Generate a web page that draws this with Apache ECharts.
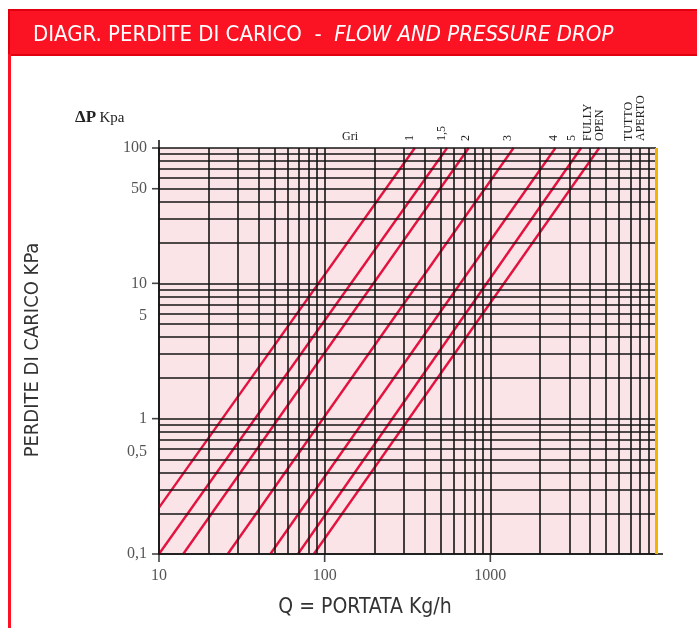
<!DOCTYPE html>
<html><head><meta charset="utf-8">
<script src="https://cdn.jsdelivr.net/npm/echarts@6/dist/echarts.min.js"></script>
<style>html,body{margin:0;padding:0;background:#fff}#c{width:697px;height:628px}</style>
</head><body><div id="c"></div>
<script>
// Curves: [Q kg/h, ΔP kPa] at both ends
const curveNames = ['1', '1,5', '2', '3', '4', '5', 'FULLY OPEN'];
const curve1 = [[10, 0.22], [350, 100]];
const curve15 = [[10, 0.1], [548, 100]];
const curve2 = [[14, 0.1], [740, 100]];
const curve3 = [[26, 0.1], [1380, 100]];
const curve4 = [[47, 0.1], [2470, 100]];
const curve5 = [[69, 0.1], [3530, 100]];
const curveFO = [[86, 0.1], [4540, 100]];
// grid line values
const xGrid = [10, 20, 30, 40, 50, 60, 70, 80, 90, 100, 200, 300, 400, 500, 600, 700, 800, 900,
  1000, 2000, 3000, 4000, 5000, 6000, 7000, 8000, 9000];
const yGrid = [0.1, 0.2, 0.3, 0.4, 0.5, 0.6, 0.7, 0.8, 0.9, 1, 2, 3, 4, 5, 6, 7, 8, 9,
  10, 20, 30, 40, 50, 60, 70, 80, 90, 100];
// tick labels
const xLabels = [10, 100, 1000];
const yLabels = [100, 50, 10, 5, 1, 0.5, 0.1];
const yTicked = [100, 50, 10, 1, 0.1];

const curves = [curve1, curve15, curve2, curve3, curve4, curve5, curveFO];
const chart = echarts.init(document.getElementById('c'));
const serif = '"Liberation Serif", "Times New Roman", serif';
const sans = '"Liberation Sans Narrow", "DejaVu Sans Condensed", "Open Sans", sans-serif';
const fmt = v => String(v).replace('.', ',');

const series = [];
series.push({
  type: 'line', data: [], z: 1, silent: true,
  markLine: {
    silent: true, symbol: ['none', 'none'], animation: false,
    label: { show: false },
    lineStyle: { color: '#151515', width: 1.6, type: 'solid' },
    data: xGrid.map(v => ({ xAxis: v })).concat(yGrid.map(v => ({ yAxis: v })))
      .concat([{ xAxis: 10000, lineStyle: { color: '#f3b400', width: 3 } }])
  }
});
curves.forEach((c, i) => {
  series.push({
    type: 'line', name: curveNames[i], data: c, showSymbol: false, z: 3,
    lineStyle: { color: '#e3123e', width: 2.4 }, silent: true
  });
});
series.push({
  type: 'scatter', z: 5, clip: false, silent: true,
  symbol: 'rect', symbolSize: [7, 1.6], symbolOffset: [-3.5, 0],
  data: yLabels.map(v => ({
    value: [10, v],
    itemStyle: { color: yTicked.includes(v) ? '#151515' : 'rgba(0,0,0,0)' },
    label: (v === 5 || v === 0.5) ? { offset: [0, -8] } : {}
  })),
  label: { show: true, position: 'left', distance: 5, color: '#2a2a2a', fontFamily: serif, fontSize: 16,
    formatter: p => fmt(p.value[1]) }
});
series.push({
  type: 'scatter', z: 5, clip: false, silent: true,
  symbol: 'rect', symbolSize: [1.6, 8], symbolOffset: [0, 4],
  itemStyle: { color: '#151515' },
  data: xLabels.map(v => [v, 0.1]),
  label: { show: true, position: 'bottom', distance: 6, color: '#2a2a2a', fontFamily: serif, fontSize: 16,
    formatter: p => fmt(p.value[0]) }
});

chart.setOption({
  animation: false,
  backgroundColor: '#ffffff',
  grid: { left: 159, top: 148, right: 41, bottom: 74, show: true, backgroundColor: '#fbe4e7', borderWidth: 0 },
  xAxis: { type: 'log', logBase: 10, min: 10, max: 10000,
    axisLine: { show: true, lineStyle: { color: '#151515', width: 1.6 } },
    axisTick: { show: false }, axisLabel: { show: false }, splitLine: { show: false } },
  yAxis: { type: 'log', logBase: 10, min: 0.1, max: 100,
    axisLine: { show: true, lineStyle: { color: '#151515', width: 1.6 } },
    axisTick: { show: false }, axisLabel: { show: false }, splitLine: { show: false } },
  series: series,
  graphic: [
    { type: 'rect', silent: true, shape: { x: 9, y: 10, width: 700, height: 45 },
      style: { fill: '#fc1323', stroke: '#e0000f', lineWidth: 2 } },
    { type: 'rect', silent: true, shape: { x: 8, y: 54, width: 3, height: 580 }, style: { fill: '#fc1323' } },
    { type: 'text', silent: true, x: 33, y: 35,
      style: { text: '{a|DIAGR. PERDITE DI CARICO  -  }{b|FLOW AND PRESSURE DROP}', verticalAlign: 'middle',
        rich: { a: { fill: '#fff', fontFamily: sans, fontSize: 22 },
                b: { fill: '#fff', fontFamily: sans, fontSize: 22, fontStyle: 'italic' } } } },
    { type: 'line', silent: true, shape: { x1: 159, y1: 140, x2: 159, y2: 150 }, style: { stroke: '#151515', lineWidth: 1.6 } },
    { type: 'line', silent: true, shape: { x1: 650, y1: 554, x2: 663, y2: 554 }, style: { stroke: '#151515', lineWidth: 1.6 } },
    { type: 'text', silent: true, x: 75, y: 118,
      style: { text: '{a|ΔP} {b|Kpa}', verticalAlign: 'middle',
        rich: { a: { fill: '#222', fontFamily: serif, fontSize: 17, fontWeight: 'bold' },
                b: { fill: '#222', fontFamily: serif, fontSize: 15 } } } },
    { type: 'text', silent: true, x: 350, y: 137,
      style: { text: 'Gri', align: 'center', verticalAlign: 'middle', fill: '#222', fontFamily: serif, fontSize: 12 } },
    ...[['1', 410], ['1,5', 442], ['2', 466], ['3', 508], ['4', 554], ['5', 572],
        ['FULLY\nOPEN', 594], ['TUTTO\nAPERTO', 635]].map(([t, x]) => ({
      type: 'text', silent: true, x: x, y: 141, rotation: Math.PI / 2,
      style: { text: t, align: 'left', verticalAlign: 'middle', fill: '#222', fontFamily: serif, fontSize: 12, lineHeight: 12 }
    })),
    { type: 'text', silent: true, x: 33, y: 350, rotation: Math.PI / 2,
      style: { text: 'PERDITE DI CARICO KPa', align: 'center', verticalAlign: 'middle', fill: '#333',
        fontFamily: sans, fontSize: 20 } },
    { type: 'text', silent: true, x: 365, y: 608,
      style: { text: 'Q = PORTATA Kg/h', align: 'center', verticalAlign: 'middle', fill: '#333',
        fontFamily: sans, fontSize: 21 } }
  ]
});
</script></body></html>
